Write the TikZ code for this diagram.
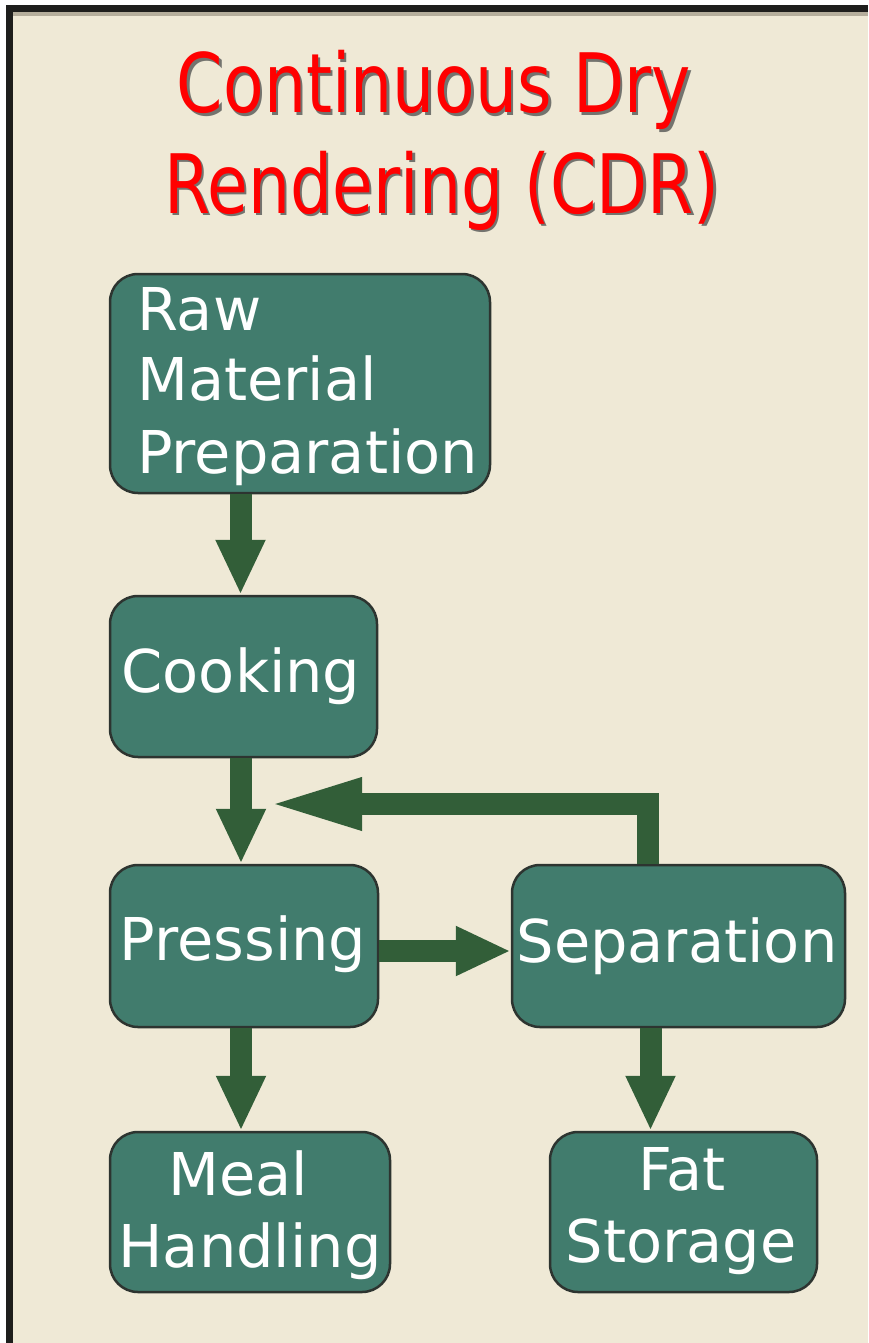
\documentclass[tikz,border=0pt]{standalone}
\usepackage{fontspec}
\setmainfont{DejaVu Sans}
\usetikzlibrary{arrows.meta}
\definecolor{cream}{RGB}{239,233,214}
\definecolor{creamedge}{RGB}{181,174,156}
\definecolor{boxfill}{RGB}{65,124,109}
\definecolor{arrowgreen}{RGB}{50,94,56}
\definecolor{boxedge}{RGB}{45,52,48}
\definecolor{framedark}{RGB}{30,30,28}
\definecolor{titleshadow}{RGB}{115,115,110}
\definecolor{titlered}{RGB}{255,0,0}
\begin{document}
\begin{tikzpicture}[x=1pt,y=-1pt,
  box/.style={draw=boxedge, line width=2.5pt, fill=boxfill, rounded corners=28pt, inner sep=0pt},
  lbl/.style={text=white, inner sep=0pt, font=\fontsize{59}{70}\selectfont},
  ttl/.style={inner sep=0pt, anchor=base, font=\fontsize{82}{100}\selectfont},
  arr/.style={draw=arrowgreen, line width=22pt, line join=miter, -{Triangle[width=46pt,length=55pt]}},
  longarr/.style={draw=arrowgreen, line width=22pt, line join=miter, -{Triangle[width=46pt,length=98pt]}}]
\useasboundingbox (0,0) rectangle (868,1343);
% frame and background
\fill[white] (0,0) rectangle (868,1343);
\fill[framedark] (6,5) rectangle (868,1343);
\fill[creamedge] (13,12) rectangle (868,1343);
\fill[cream] (13,16) rectangle (868,1343);

% title
\node[ttl, text=titleshadow] (t1s) at (436.5,115.5) {\scalebox{0.81}[1]{Continuous Dry}};
\node[ttl, text=titlered] (t1) at (434,113) {\scalebox{0.81}[1]{Continuous Dry}};
\node[ttl, text=titleshadow] (t2s) at (444.5,215.5) {\scalebox{0.81}[1]{Rendering (CDR)}};
\node[ttl, text=titlered] (t2) at (442,213) {\scalebox{0.81}[1]{Rendering (CDR)}};

% boxes
\node[box, minimum width=380pt, minimum height=219pt] (raw) at (300,383.5) {};
\node[box, minimum width=267pt, minimum height=161pt] (cook) at (243.5,676.5) {};
\node[box, minimum width=268pt, minimum height=162pt] (press) at (244,946) {};
\node[box, minimum width=333pt, minimum height=162pt] (sep) at (678.5,946) {};
\node[box, minimum width=280pt, minimum height=160pt] (meal) at (250,1212) {};
\node[box, minimum width=267pt, minimum height=160pt] (fat) at (683.5,1212) {};

% labels
\node[lbl, anchor=base west] (raw1) at (137,330) {Raw};
\node[lbl, anchor=base west] (raw2) at (137,400) {Material};
\node[lbl, anchor=base west] (raw3) at (137,473) {Preparation};
\node[lbl, anchor=base] (cookt) at (241,692) {Cooking};
\node[lbl, anchor=base] (presst) at (243,960) {Pressing};
\node[lbl, anchor=base] (sept) at (677,962) {Separation};
\node[lbl, anchor=base] (meal1) at (238,1195) {Meal};
\node[lbl, anchor=base] (meal2) at (250,1267) {Handling};
\node[lbl, anchor=base] (fat1) at (682,1190) {Fat};
\node[lbl, anchor=base] (fat2) at (681,1262) {Storage};

% connectors
\coordinate (fbend) at (264,804);
\draw[arr] ([xshift=-3pt]cook.north |- raw.south) -- ([xshift=-3pt]cook.north);
\draw[arr] ([xshift=-3pt]press.north |- cook.south) -- ([xshift=-3pt]press.north);
\draw[longarr] ([xshift=-31pt]sep.north) |- (fbend);
\draw[arr] ([yshift=-5pt]press.east) -- ([yshift=-5pt]press.east -| sep.west);
\draw[arr] ([xshift=-3pt]press.south) -- ([xshift=-3pt]press.south |- meal.north);
\draw[arr] ([xshift=-28pt]sep.south) -- ([xshift=-28pt]sep.south |- fat.north);
\end{tikzpicture}
\end{document}
